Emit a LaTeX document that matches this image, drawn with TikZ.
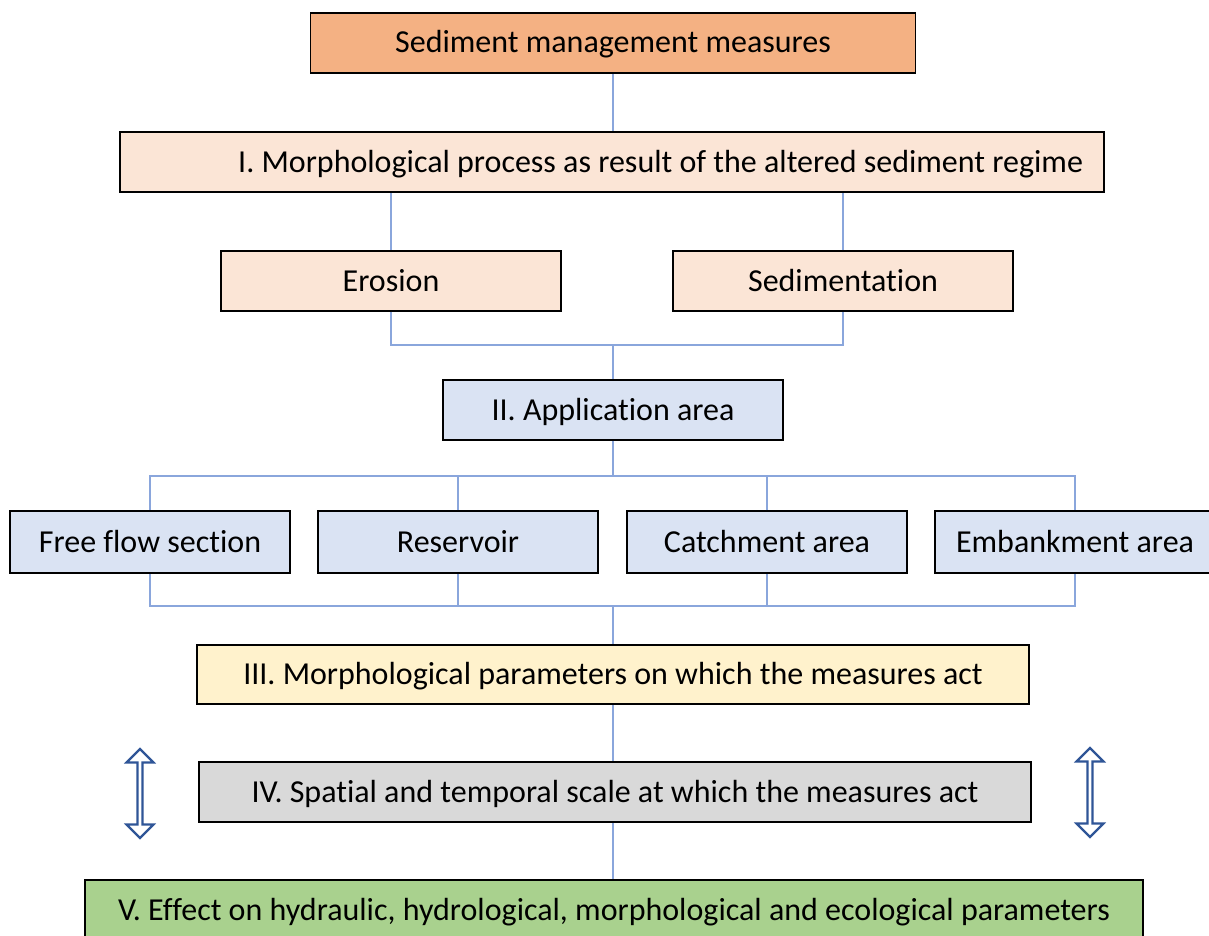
\documentclass[tikz,border=0pt]{standalone}
\usepackage{fontspec}
\setmainfont{Carlito}[Ligatures=NoCommon]
\usepackage{tikz}
\usetikzlibrary{shapes,arrows,positioning}

\definecolor{orangebox}{HTML}{F4B183}
\definecolor{peachbox}{HTML}{FBE5D6}
\definecolor{bluebox}{HTML}{DAE3F3}
\definecolor{yellowbox}{HTML}{FFF2CC}
\definecolor{greybox}{HTML}{D9D9D9}
\definecolor{greenbox}{HTML}{A9D18E}
\definecolor{linkblue}{HTML}{8AA6DC}
\definecolor{arrowblue}{HTML}{2F5597}

\tikzset{
  box/.style={draw=black, line width=1.6pt, minimum height=60pt, inner sep=0pt,
    text height=26pt, text depth=6pt, font=\fontsize{32}{38}\selectfont},
  link/.style={draw=linkblue, line width=1.3pt},
  scalearrow/.style={double arrow, draw=arrowblue, fill=white, line width=2.2pt,
    rotate=90, minimum height=89pt, minimum width=27pt,
    double arrow head extend=5pt, inner sep=0pt}
}

\begin{document}
\begin{tikzpicture}[x=1pt,y=-1pt]

  \useasboundingbox (0,0) rectangle (1209,936);

  % boxes
  \node[box, fill=orangebox, minimum width=605pt] (top) at (613,43) {Sediment management measures};
  \node[box, fill=peachbox, text width=942pt, inner xsep=21pt, align=flush right] (morph) at (612,162) {I. Morphological process as result of the altered sediment regime};
  \node[box, fill=peachbox, minimum width=340pt] (erosion) at (391,281) {Erosion};
  \node[box, fill=peachbox, minimum width=340pt] (sedim) at (843,281) {Sedimentation};
  \node[box, fill=bluebox, minimum width=340pt] (appl) at (613,410) {II. Application area};

  \node[box, fill=bluebox, minimum width=280pt, minimum height=62pt] (free) at (150,542) {Free flow section};
  \node[box, fill=bluebox, minimum width=280pt, minimum height=62pt] (reservoir) at (458,542) {Reservoir};
  \node[box, fill=bluebox, minimum width=280pt, minimum height=62pt] (catchment) at (767,542) {Catchment area};
  \node[box, fill=bluebox, minimum width=280pt, minimum height=62pt] (embank) at (1075,542) {Embankment area};

  \node[box, fill=yellowbox, minimum width=832pt, minimum height=59pt] (params) at (613,674.5) {III. Morphological parameters on which the measures act};
  \node[box, fill=greybox, minimum width=832pt] (scale) at (615,792) {IV. Spatial and temporal scale at which the measures act};
  \node[box, fill=greenbox, minimum width=1058pt] (effect) at (614,910) {V. Effect on hydraulic, hydrological, morphological and ecological parameters};

  % connectors
  \coordinate (erojoin) at (613,345);
  \coordinate (applsplit) at (613,476);
  \coordinate (areajoin) at (613,606);

  \draw[link] (top.south) -- (top.south |- morph.north);
  \draw[link] (erosion.north) -- (erosion.north |- morph.south);
  \draw[link] (sedim.north) -- (sedim.north |- morph.south);
  \draw[link] (erosion.south) |- (erojoin) -| (sedim.south);
  \draw[link] (erojoin) -- (appl.north);

  \draw[link] (appl.south) -- (applsplit);
  \draw[link] (free.north) |- (applsplit) -| (embank.north);
  \draw[link] (reservoir.north) -- (reservoir.north |- applsplit);
  \draw[link] (catchment.north) -- (catchment.north |- applsplit);

  \draw[link] (free.south) |- (areajoin) -| (embank.south);
  \draw[link] (reservoir.south) -- (reservoir.south |- areajoin);
  \draw[link] (catchment.south) -- (catchment.south |- areajoin);
  \draw[link] (areajoin) -- (params.north);

  \draw[link] (params.south) -- (params.south |- scale.north);
  \draw[link] (params.south |- scale.south) -- (params.south |- effect.north);

  % scale arrows
  \node[scalearrow] (leftarrow) at (140,793.5) {};
  \node[scalearrow] (rightarrow) at (1090,792.5) {};

\end{tikzpicture}
\end{document}
